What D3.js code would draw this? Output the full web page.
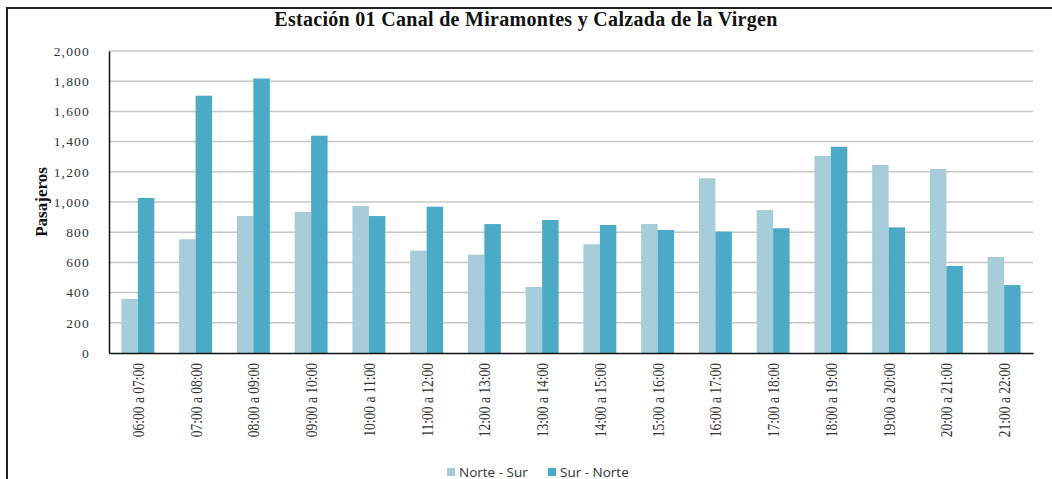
<!DOCTYPE html>
<html>
<head>
<meta charset="utf-8">
<script src="https://cdn.jsdelivr.net/npm/d3@7"></script>
<style>
  body { margin: 0; background: #fff; }
  svg { display: block; }
</style>
</head>
<body>
<div id="chart"></div>
<script>
var horas = ['06:00 a 07:00', '07:00 a 08:00', '08:00 a 09:00', '09:00 a 10:00', '10:00 a 11:00',
  '11:00 a 12:00', '12:00 a 13:00', '13:00 a 14:00', '14:00 a 15:00', '15:00 a 16:00',
  '16:00 a 17:00', '17:00 a 18:00', '18:00 a 19:00', '19:00 a 20:00', '20:00 a 21:00', '21:00 a 22:00'];
var norteSur = [358, 753, 907, 934, 973, 678, 651, 437, 720, 854, 1157, 947, 1305, 1245, 1219, 636];
var surNorte = [1027, 1704, 1818, 1439, 907, 969, 854, 881, 848, 815, 804, 826, 1366, 832, 576, 450];
var series = ['Norte - Sur', 'Sur - Norte'];
var yTicks = [0, 200, 400, 600, 800, 1000, 1200, 1400, 1600, 1800, 2000];
var colores = ['#a7cdda', '#4babc6'];

var W = 1052, H = 479;
var mLeft = 109, mRight = 1033, mTop = 51, mBottom = 353;
var serif = 'Liberation Serif, Times New Roman, serif';

var svg = d3.select('#chart').append('svg')
  .attr('width', W).attr('height', H);

// outer frame (top + left only visible)
svg.append('line').attr('x1', 6).attr('x2', W).attr('y1', 8).attr('y2', 8)
  .attr('stroke', '#222').attr('stroke-width', 2);
svg.append('line').attr('x1', 7).attr('x2', 7).attr('y1', 7).attr('y2', H)
  .attr('stroke', '#222').attr('stroke-width', 2);

var x0 = d3.scaleBand().domain(horas).range([mLeft, mRight]).paddingInner(0.43).paddingOuter(0.215);
var x1 = d3.scaleBand().domain(series).range([0, x0.bandwidth()]);
var y = d3.scaleLinear().domain([0, 2000]).range([mBottom, mTop]);

// gridlines
svg.append('g').selectAll('line').data(yTicks.slice(1)).enter().append('line')
  .attr('x1', mLeft).attr('x2', mRight)
  .attr('y1', d => y(d)).attr('y2', d => y(d))
  .attr('stroke', '#c8c8c8').attr('stroke-width', 1.5);

var datos = horas.map((h, i) => ({ hora: h, vals: [norteSur[i], surNorte[i]] }));

svg.append('g').selectAll('g').data(datos).enter().append('g')
  .attr('transform', d => 'translate(' + x0(d.hora) + ',0)')
  .selectAll('rect').data(d => d.vals.map((v, j) => ({ s: series[j], v: v, j: j })))
  .enter().append('rect')
  .attr('x', d => x1(d.s))
  .attr('y', d => y(d.v))
  .attr('width', x1.bandwidth())
  .attr('height', d => mBottom - y(d.v))
  .attr('fill', d => colores[d.j]);

// y axis
var yAxis = d3.axisLeft(y).tickValues(yTicks).tickSize(0).tickPadding(19)
  .tickFormat(d3.format(','));
var gy = svg.append('g').attr('transform', 'translate(' + mLeft + ',0)').call(yAxis);
gy.select('.domain').attr('stroke', '#111').attr('stroke-width', 1.5);
gy.selectAll('text').attr('font-family', serif)
  .attr('font-size', 13.5).attr('letter-spacing', 1.2).attr('fill', '#333');

// x axis
var xAxis = d3.axisBottom(x0).tickSize(0).tickPadding(0);
var gx = svg.append('g').attr('transform', 'translate(0,' + mBottom + ')').call(xAxis);
gx.select('.domain').attr('stroke', '#111').attr('stroke-width', 1.5);
gx.selectAll('text')
  .attr('font-family', serif)
  .attr('font-size', 13.5).attr('fill', '#333')
  .attr('text-anchor', 'end')
  .attr('transform', 'rotate(-90) scale(1,1.25)')
  .attr('x', -10).attr('y', 0).attr('dy', '0.35em');

// title
svg.append('text').attr('x', 526).attr('y', 26).attr('text-anchor', 'middle')
  .attr('font-family', serif)
  .attr('font-weight', 'bold').attr('font-size', 20).attr('letter-spacing', 0.3).attr('fill', '#111')
  .text('Estación 01 Canal de Miramontes y Calzada de la Virgen');

// y label
svg.append('text').attr('transform', 'translate(47,' + ((mTop + mBottom) / 2) + ') rotate(-90)')
  .attr('text-anchor', 'middle')
  .attr('font-family', serif)
  .attr('font-weight', 'bold').attr('font-size', 17).attr('fill', '#111')
  .text('Pasajeros');

// legend
var legX = [447, 548];
var leg = svg.append('g').selectAll('g').data(series).enter().append('g')
  .attr('transform', (d, i) => 'translate(' + legX[i] + ',468)');
leg.append('rect').attr('width', 8).attr('height', 8).attr('fill', (d, i) => colores[i]);
leg.append('text').attr('x', 12).attr('y', 8.5)
  .attr('font-family', 'Open Sans, Noto Sans, sans-serif').attr('font-size', 13.5)
  .attr('fill', '#333').text(d => d);
</script>
</body>
</html>
